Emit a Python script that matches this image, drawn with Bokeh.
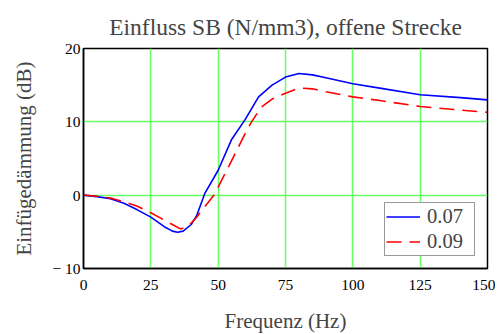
from bokeh.plotting import figure
from bokeh.models import Range1d, FixedTicker, Legend, LegendItem
from bokeh.embed import file_html
from bokeh.resources import INLINE

freq_a = [0, 5, 10, 15, 20, 25, 30, 33, 35, 37, 40, 42, 45, 50, 55, 60, 65, 70, 75, 80, 85, 90, 100, 110, 125, 140, 150]
sb_007 = [0, -0.2, -0.5, -1.1, -2.0, -3.0, -4.3, -4.9, -5.05, -4.9, -4.0, -2.8, 0.2, 3.4, 7.6, 10.3, 13.4, 15.0, 16.1, 16.6, 16.4, 16.0, 15.2, 14.6, 13.7, 13.3, 13.0]

freq_b = [0, 5, 10, 15, 20, 25, 30, 33, 36, 38, 40, 42, 45, 48.4, 50, 55, 60, 62.4, 66, 70, 75, 80, 85, 90, 100, 110, 125, 140, 150]
sb_009 = [0, -0.15, -0.4, -0.9, -1.5, -2.4, -3.4, -4.0, -4.6, -4.4, -3.8, -3.0, -1.6, 0, 1.1, 4.7, 8.4, 10.0, 12.0, 13.1, 13.9, 14.6, 14.5, 14.1, 13.4, 12.9, 12.1, 11.6, 11.3]

x_ticks = [0, 25, 50, 75, 100, 125, 150]
y_ticks = [-10, 0, 10, 20]
y_labels = {-10: "\u2212 10", 0: "0", 10: "10", 20: "20"}

FONT = "Liberation Serif"

p = figure(frame_width=404, frame_height=220, output_backend="svg", toolbar_location=None,
           x_range=Range1d(0, 150), y_range=Range1d(-10, 20),
           min_border_left=83, min_border_right=8, min_border_top=48, min_border_bottom=58)

p.title.text = "Einfluss SB (N/mm3), offene Strecke"
p.title.text_font = FONT
p.title.text_font_size = "23.5px"
p.title.text_font_style = "normal"
p.title.align = "center"
p.title.vertical_align = "top"
p.title.offset = 0
p.title.standoff = 14

p.outline_line_color = "black"
p.outline_line_width = 1.5
p.outline_line_alpha = 1

for ax in (p.xaxis, p.yaxis):
    ax.major_label_text_font = FONT
    ax.major_label_text_font_size = "15.5px"
    ax.axis_label_text_font = FONT
    ax.axis_label_text_font_size = "21px"
    ax.axis_label_text_font_style = "normal"
    ax.major_tick_line_color = None
    ax.minor_tick_line_color = None
    ax.major_tick_out = 0
    ax.major_tick_in = 0
    ax.axis_line_color = "black"
    ax.axis_line_width = 1.5
    ax.major_label_text_color = "black"

p.xaxis.ticker = FixedTicker(ticks=x_ticks)
p.yaxis.ticker = FixedTicker(ticks=y_ticks)
p.yaxis.major_label_overrides = y_labels
p.xaxis.axis_label = "Frequenz (Hz)"
p.yaxis.axis_label = "Einfügedämmung (dB)"
p.xaxis.major_label_standoff = 11
p.yaxis.major_label_standoff = 3
p.xaxis.axis_label_standoff = 16
p.yaxis.axis_label_standoff = 13

p.xgrid.grid_line_color = "#66ff66"
p.ygrid.grid_line_color = "#66ff66"
p.xgrid.grid_line_width = 1.5
p.ygrid.grid_line_width = 1.5
p.xgrid.grid_line_alpha = 1
p.ygrid.grid_line_alpha = 1

r1 = p.line(freq_a, sb_007, line_color="#0000ff", line_width=1.6)
r2 = p.line(freq_b, sb_009, line_color="#ff0000", line_width=1.6, line_dash="15 8")

legend = Legend(items=[LegendItem(label="0.07", renderers=[r1]),
                       LegendItem(label="0.09", renderers=[r2])],
                location="bottom_right")
legend.label_text_font = FONT
legend.label_text_font_size = "20.5px"
legend.border_line_color = "#333333"
legend.border_line_width = 1.5
legend.background_fill_alpha = 1
legend.margin = 12
legend.padding = 1
legend.spacing = 0
legend.glyph_width = 34
legend.glyph_height = 25
legend.label_height = 25
legend.label_width = 46
legend.label_standoff = 7
p.add_layout(legend)

open("out.html", "w").write(file_html(p, INLINE))
